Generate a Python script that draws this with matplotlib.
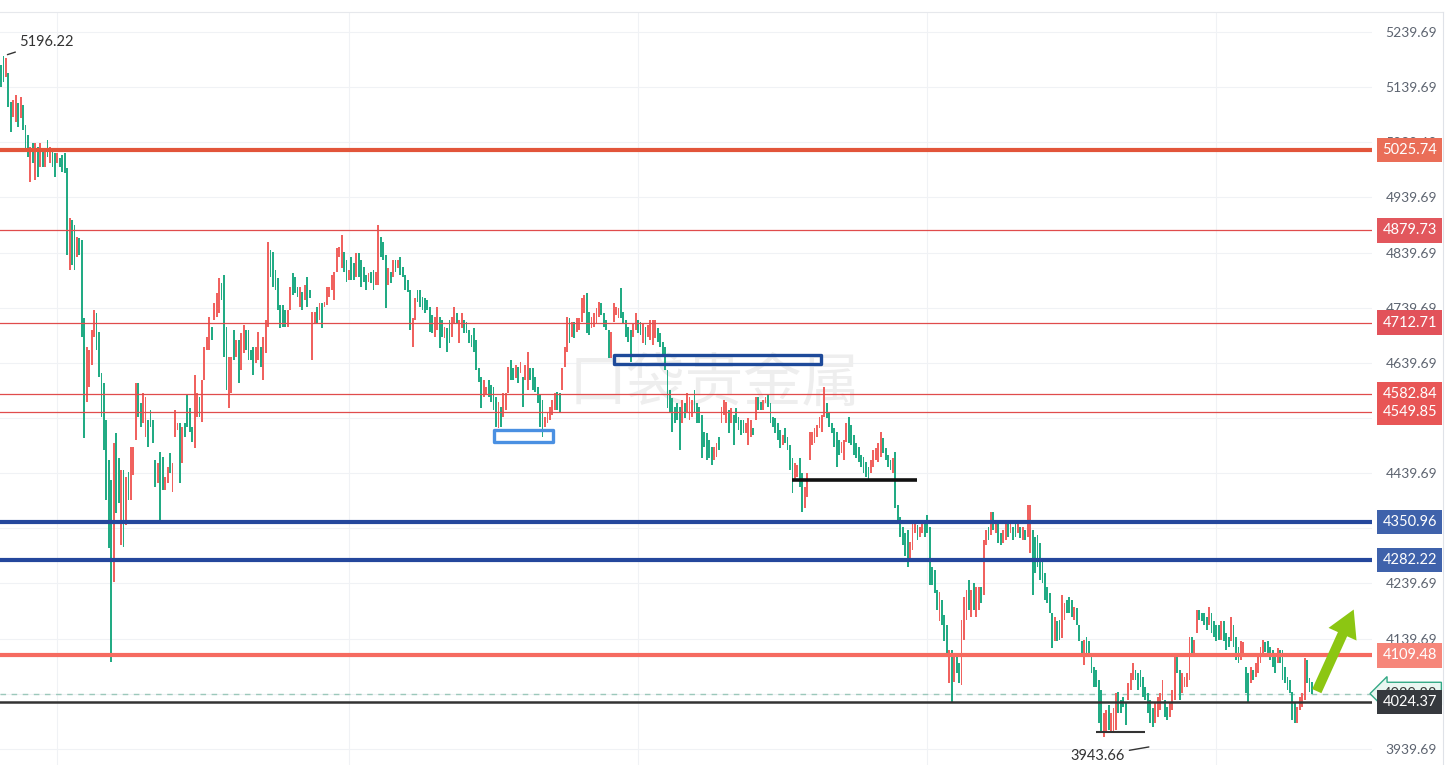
import numpy as np
import matplotlib
matplotlib.use('Agg')
from matplotlib import pyplot as plt
from matplotlib import transforms
from matplotlib.patches import Rectangle

plt.rcParams['font.family'] = ['Lato', 'DejaVu Sans']

### candle data (one candle per entry)
opens = [
    5180, 5196, 5158, 5165, 5113, 5086, 5077, 5111, 5084, 5107,
    5071, 5053, 4968, 5038, 4971, 5031, 4995, 5026, 4995, 5044,
    5002, 5026, 5020, 5002, 5011, 5017, 5020, 4993, 4808, 4899,
    4890, 4832, 4866, 4862, 4721, 4569, 4596, 4636, 4687, 4730,
    4696, 4621, 4603, 4536, 4464, 4427, 4242, 4513, 4467, 4309,
    4445, 4346, 4442, 4391, 4436, 4500, 4603, 4567, 4531, 4505,
    4536, 4554, 4536, 4464, 4422, 4478, 4469, 4409, 4422, 4476,
    4406, 4505, 4518, 4531, 4458, 4531, 4581, 4558, 4523, 4485,
    4541, 4578, 4533, 4609, 4663, 4663, 4705, 4717, 4723, 4730,
    4785, 4799, 4705, 4558, 4585, 4699, 4650, 4681, 4627, 4658,
    4699, 4699, 4663, 4668, 4639, 4645, 4668, 4609, 4658, 4705,
    4844, 4841, 4808, 4794, 4745, 4745, 4736, 4705, 4736, 4803,
    4795, 4777, 4741, 4768, 4754, 4795, 4772, 4645, 4712, 4741,
    4717, 4748, 4741, 4745, 4759, 4772, 4754, 4804, 4832, 4812,
    4841, 4826, 4790, 4832, 4821, 4795, 4839, 4826, 4814, 4799,
    4786, 4804, 4808, 4781, 4781, 4868, 4859, 4835, 4781, 4804,
    4795, 4826, 4812, 4832, 4814, 4799, 4790, 4772, 4668, 4717,
    4772, 4772, 4759, 4757, 4754, 4741, 4727, 4687, 4699, 4723,
    4717, 4685, 4703, 4717, 4687, 4712, 4730, 4676, 4703, 4717,
    4714, 4699, 4690, 4703, 4681, 4630, 4614, 4578, 4581, 4609,
    4600, 4596, 4578, 4522, 4560, 4541, 4554, 4585, 4645, 4630,
    4612, 4632, 4621, 4614, 4609, 4590, 4630, 4630, 4614, 4596,
    4581, 4572, 4523, 4531, 4536, 4545, 4554, 4587, 4585, 4590,
    4632, 4659, 4721, 4687, 4714, 4696, 4699, 4714, 4730, 4766,
    4732, 4703, 4705, 4712, 4723, 4748, 4730, 4717, 4699, 4648,
    4714, 4727, 4721, 4775, 4732, 4717, 4705, 4699, 4687, 4699,
    4717, 4714, 4676, 4705, 4687, 4681, 4672, 4685, 4703, 4694,
    4678, 4668, 4627, 4590, 4576, 4560, 4567, 4560, 4531, 4567,
    4549, 4536, 4541, 4590, 4567, 4560, 4545, 4514, 4513, 4500,
    4487, 4464, 4469, 4505, 4531, 4545, 4531, 4554, 4531, 4545,
    4558, 4541, 4536, 4536, 4513, 4491, 4505, 4522, 4536, 4578,
    4569, 4554, 4567, 4581, 4567, 4541, 4540, 4531, 4518, 4491,
    4522, 4505, 4491, 4467, 4427, 4433, 4467, 4440, 4377, 4396,
    4464, 4491, 4494, 4505, 4522, 4514, 4541, 4567, 4549, 4531,
    4522, 4514, 4500, 4476, 4464, 4496, 4541, 4527, 4509, 4494,
    4487, 4473, 4469, 4460, 4451, 4440, 4451, 4464, 4460, 4469,
    4503, 4485, 4473, 4464, 4440, 4478, 4382, 4360, 4342, 4331,
    4337, 4279, 4300, 4331, 4346, 4324, 4331, 4351, 4364, 4342,
    4269, 4264, 4228, 4172, 4210, 4182, 4165, 4059, 4119, 4061,
    4110, 4096, 4056, 4137, 4173, 4246, 4179, 4241, 4179, 4192,
    4234, 4219, 4309, 4342, 4327, 4369, 4331, 4349, 4331, 4313,
    4318, 4355, 4331, 4342, 4349, 4331, 4342, 4318, 4337, 4324,
    4295, 4337, 4324, 4327, 4313, 4282, 4259, 4234, 4222, 4186,
    4135, 4172, 4173, 4141, 4173, 4210, 4215, 4210, 4173, 4195,
    4164, 4135, 4092, 4142, 4135, 4114, 4088, 4083, 4065, 4047,
    3961, 3969, 4019, 3969, 3969, 3974, 4043, 4028, 4034, 4023,
    4028, 4047, 4065, 4083, 4077, 4083, 4070, 4052, 4041, 4028,
    4014, 3987, 3997, 4010, 4028, 4028, 4016, 3997, 4010, 4028,
    4106, 4083, 4041, 4052, 4052, 4065, 4142, 4114, 4150, 4192,
    4186, 4186, 4179, 4165, 4186, 4172, 4165, 4165, 4137, 4172,
    4150, 4142, 4135, 4165, 4142, 4124, 4101, 4106, 4088, 4077,
    4059, 4083, 4070, 4077, 4096, 4106, 4133, 4135, 4124, 4119,
    4114, 4096, 4119, 4119, 4088, 4070, 4065, 4043, 4023, 3987,
    4010, 4016, 4028, 4101, 4068, 4061,
]
closes = [
    5140, 5149, 5192, 5104, 5058, 5116, 5125, 5067, 5122, 5062,
    5026, 5013, 5031, 5002, 5038, 4976, 5038, 4995, 5022, 5013,
    5031, 4995, 4976, 5020, 4995, 4986, 4984, 4835, 4902, 4817,
    4808, 4868, 4835, 4687, 4503, 4668, 4663, 4699, 4736, 4663,
    4614, 4541, 4482, 4391, 4304, 4097, 4494, 4368, 4386, 4445,
    4305, 4433, 4391, 4487, 4487, 4603, 4541, 4523, 4585, 4578,
    4487, 4523, 4494, 4415, 4458, 4351, 4409, 4433, 4451, 4440,
    4458, 4554, 4531, 4422, 4523, 4505, 4523, 4514, 4496, 4618,
    4585, 4541, 4609, 4668, 4687, 4723, 4681, 4748, 4766, 4794,
    4754, 4650, 4590, 4650, 4650, 4645, 4681, 4603, 4694, 4708,
    4663, 4645, 4645, 4618, 4668, 4696, 4632, 4687, 4717, 4859,
    4795, 4777, 4772, 4736, 4703, 4705, 4705, 4736, 4777, 4763,
    4766, 4759, 4777, 4736, 4781, 4741, 4757, 4732, 4732, 4712,
    4748, 4703, 4750, 4777, 4777, 4799, 4804, 4848, 4850, 4872,
    4804, 4786, 4808, 4790, 4790, 4839, 4795, 4777, 4786, 4772,
    4803, 4785, 4772, 4804, 4890, 4832, 4826, 4739, 4812, 4785,
    4826, 4804, 4826, 4799, 4795, 4772, 4768, 4699, 4721, 4757,
    4750, 4741, 4736, 4730, 4736, 4696, 4694, 4723, 4741, 4667,
    4687, 4705, 4659, 4676, 4723, 4741, 4712, 4717, 4730, 4694,
    4694, 4676, 4668, 4659, 4627, 4605, 4558, 4609, 4596, 4578,
    4569, 4554, 4523, 4569, 4523, 4585, 4585, 4632, 4609, 4609,
    4636, 4603, 4641, 4560, 4636, 4659, 4609, 4590, 4587, 4567,
    4523, 4505, 4541, 4551, 4560, 4572, 4585, 4554, 4551, 4630,
    4668, 4723, 4676, 4714, 4685, 4721, 4721, 4757, 4763, 4694,
    4690, 4723, 4730, 4739, 4750, 4727, 4705, 4699, 4648, 4696,
    4748, 4741, 4739, 4721, 4712, 4687, 4678, 4641, 4712, 4730,
    4694, 4690, 4712, 4672, 4708, 4717, 4717, 4717, 4678, 4668,
    4650, 4627, 4558, 4549, 4514, 4531, 4536, 4482, 4572, 4540,
    4585, 4578, 4572, 4549, 4531, 4531, 4467, 4487, 4464, 4467,
    4455, 4487, 4494, 4482, 4560, 4572, 4569, 4513, 4558, 4491,
    4531, 4518, 4509, 4513, 4531, 4540, 4536, 4509, 4578, 4554,
    4554, 4572, 4578, 4560, 4531, 4523, 4513, 4500, 4485, 4509,
    4494, 4482, 4445, 4404, 4458, 4455, 4415, 4369, 4415, 4440,
    4514, 4514, 4522, 4527, 4541, 4545, 4596, 4540, 4523, 4513,
    4487, 4451, 4473, 4496, 4500, 4531, 4494, 4491, 4473, 4467,
    4460, 4451, 4440, 4433, 4427, 4464, 4482, 4485, 4494, 4514,
    4476, 4464, 4451, 4445, 4467, 4377, 4353, 4324, 4309, 4289,
    4269, 4315, 4351, 4349, 4318, 4342, 4349, 4324, 4331, 4237,
    4237, 4222, 4192, 4224, 4165, 4135, 4114, 4119, 4023, 4110,
    4077, 4059, 4173, 4215, 4228, 4192, 4228, 4192, 4234, 4234,
    4204, 4318, 4337, 4318, 4369, 4337, 4355, 4313, 4309, 4337,
    4349, 4324, 4349, 4318, 4324, 4349, 4322, 4342, 4318, 4382,
    4382, 4219, 4259, 4269, 4246, 4241, 4210, 4204, 4186, 4123,
    4179, 4135, 4137, 4219, 4204, 4186, 4186, 4179, 4197, 4165,
    4135, 4110, 4137, 4106, 4106, 4077, 4052, 4052, 3987, 3969,
    4005, 4010, 3974, 4005, 4014, 4041, 4005, 4005, 4016, 3983,
    4059, 4077, 4096, 4065, 4047, 4052, 4034, 4028, 4005, 3987,
    3979, 4023, 4034, 4041, 4065, 3997, 3992, 4023, 4047, 4114,
    4077, 4028, 4077, 4070, 4077, 4142, 4106, 4137, 4192, 4173,
    4172, 4165, 4155, 4197, 4150, 4142, 4135, 4137, 4172, 4135,
    4119, 4124, 4179, 4124, 4101, 4096, 4135, 4133, 4041, 4023,
    4088, 4065, 4096, 4106, 4124, 4137, 4115, 4106, 4101, 4088,
    4077, 4123, 4096, 4065, 4059, 4047, 4041, 3992, 3987, 4016,
    4034, 4041, 4104, 4059, 4043, 4040,
]

tick_vals = [5239.69, 5139.69, 5039.69, 4939.69, 4839.69, 4739.69, 4639.69,
             4539.69, 4439.69, 4339.69, 4239.69, 4139.69, 4039.69, 3939.69]
grid_idx = [23, 142, 260, 378, 496]

# drawn levels on the chart
levels = [5025.74, 4879.73, 4712.71, 4582.84, 4549.85, 4350.96, 4282.22, 4109.48, 4024.37]
level_colors = ['#e2553a', '#e04c4c', '#e04c4c', '#e04c4c', '#e04c4c',
                '#24479c', '#24479c', '#f66b60', '#333333']
level_widths = [3.0, 0.9, 0.9, 0.9, 0.9, 3.0, 3.0, 3.0, 1.8]
label_colors = ['#ea6e58', '#e2575d', '#e2525a', '#e85656', '#e85656',
                '#3f62ab', '#3f62ab', '#f6867a', '#36393e']

last_price = 4039.88
high_val, high_idx = 5196.22, 1
low_val, low_idx = 3943.66, 469
arrow_target = 4197

green = '#22ab84'
red = '#f0625f'

fig = plt.figure(figsize=(14.52, 7.65), dpi=100)
ax = fig.add_axes([0, 0, 1372 / 1452, 753 / 765])
ax.set_xlim(-0.41, 559.5)
ax.set_ylim(3910.5, 5275.9)

### candles
x = np.arange(len(opens))
o = np.array(opens, dtype=float)
c = np.array(closes, dtype=float)
cols = np.where(c >= o, red, green)
ax.bar(x, c - o, bottom=o, width=0.75, color=cols, linewidth=0, zorder=3)

# watermark
ax.text(291, 4600, '口袋贵金属', fontsize=42, color='#eeeeee', ha='center', va='center',
        family=['Noto Sans CJK SC', 'DejaVu Sans'], zorder=1)

### horizontal levels
for p, col, lw in zip(levels, level_colors, level_widths):
    ax.axhline(p, color=col, lw=lw, zorder=4)
ax.axhline(last_price, color='#9cc8bb', lw=1, ls=(0, (4, 4)), zorder=2.5)

# drawn boxes / segments
ax.add_patch(Rectangle((201.2, 4496), 24.1, 22, fill=False, ec='#4a90e2', lw=2.4,
                       joinstyle='round', zorder=5))
ax.add_patch(Rectangle((250.2, 4638), 84.4, 16, fill=False, ec='#1e4a9a', lw=2.4,
                       joinstyle='round', zorder=5))
ax.plot([323, 374], [4427, 4427], color='#111111', lw=2.6, solid_capstyle='butt', zorder=5)
ax.plot([447, 467], [3970, 3970], color='#333333', lw=1.5, solid_capstyle='butt', zorder=5)

# high / low markers
ax.annotate(f'{high_val:.2f}', xy=(high_idx, high_val), xytext=(16, 14),
            textcoords='offset pixels', ha='left', va='center', fontsize=10.5, color='#333333',
            arrowprops=dict(arrowstyle='-', color='#333333', lw=1, shrinkA=1, shrinkB=3), zorder=6)
ax.annotate(f'{low_val:.2f}', xy=(low_idx, low_val), xytext=(-25, -9),
            textcoords='offset pixels', ha='right', va='center', fontsize=10.5, color='#333333',
            arrowprops=dict(arrowstyle='-', color='#333333', lw=1, shrinkA=1, shrinkB=1), zorder=6,
            annotation_clip=False)

# green arrow
n = len(closes)
ax.annotate('', xy=(n + 16.5, arrow_target), xytext=(n + 0.5, last_price),
            arrowprops=dict(arrowstyle='simple,head_length=0.75,head_width=0.85,tail_width=0.28',
                            fc='#8cc612', ec='none', mutation_scale=26), zorder=7)

### price labels on the right
trans = transforms.blended_transform_factory(ax.transAxes, ax.transData)
x_lab = 1437 / 1372
ax.text(x_lab, last_price, f'{last_price:.2f}', transform=trans, ha='right', va='center',
        color='#3a3a3a', fontsize=10.5, clip_on=False, zorder=5.5,
        bbox=dict(boxstyle='larrow,pad=0.3', fc='#e9f6f1', ec='#33a985', lw=1))
for p, bg in zip(levels, label_colors):
    ax.text(x_lab, p, f'{p:.2f}', transform=trans, ha='right', va='center', color='white',
            fontsize=10.5, clip_on=False, zorder=6,
            bbox=dict(boxstyle='square,pad=0.36', fc=bg, ec='none'))

### axes styling
ax.set_yticks(tick_vals)
ax.set_yticklabels([f'{v:.2f}' for v in tick_vals])
ax.set_xticks(grid_idx)
ax.yaxis.tick_right()
ax.tick_params(axis='x', length=0, labelbottom=False)
ax.tick_params(axis='y', length=0, pad=65 * 0.72, labelsize=10, labelcolor='#5d6470')
for lbl in ax.get_yticklabels():
    lbl.set_horizontalalignment('right')
ax.grid(True, color='#f0f2f5', lw=0.8)
ax.set_axisbelow(True)
for s in ax.spines.values():
    s.set_visible(False)

fig.add_artist(plt.Line2D([0, 1443 / 1452], [1 - 12 / 765] * 2, color='#e6e8ec', lw=0.8))
fig.add_artist(plt.Line2D([1443 / 1452] * 2, [0, 1 - 12 / 765], color='#dfe2e8', lw=0.8))

fig.savefig('out.png', dpi=100)
